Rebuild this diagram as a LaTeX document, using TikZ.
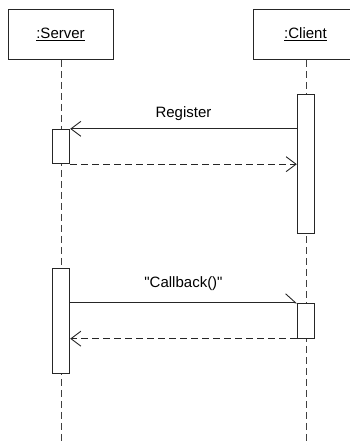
\documentclass[tikz,border=0pt]{standalone}
\usepackage{fontspec}
\setmainfont{Liberation Sans}[Ligatures=TeXOff]
\usetikzlibrary{arrows.meta}
\begin{document}
\begin{tikzpicture}[x=1pt,y=-1pt,
  every node/.style={font=\fontsize{15}{18}\selectfont},
  objbox/.style={draw=black!85, line width=0.9pt, minimum width=105pt, minimum height=50pt, inner sep=0pt},
  actbox/.style={draw=black!85, fill=white, line width=0.9pt, minimum width=17.5pt, inner sep=0pt},
  lifeline/.style={draw=black!75, line width=0.9pt, dash pattern=on 7pt off 4pt},
  msg/.style={draw=black!85, line width=0.9pt, -{Straight Barb[length=10pt,width=15pt]}},
  ret/.style={msg, dash pattern=on 7pt off 4pt},
  halfmsg/.style={draw=black!85, line width=0.9pt, -{Straight Barb[left,length=10pt,width=18pt]}},
  lbl/.style={inner sep=0pt, anchor=base}
]
\useasboundingbox (0,0) rectangle (350,445);
% object boxes
\node[objbox] (server) at (60.5,34.5) {\underline{:Server}};
\node[objbox] (client) at (305.5,34.5) {\underline{:Client}};
% lifelines
\coordinate (sEnd) at (61,450);
\coordinate (cEnd) at (306,450);
\draw[lifeline] (server.south -| sEnd) -- (sEnd);
\draw[lifeline] (client.south -| cEnd) -- (cEnd);
% activations
\node[actbox, minimum height=139pt] (ca1) at (306,163.5) {};
\node[actbox, minimum height=34.5pt] (sa1) at (61,146.5) {};
\node[actbox, minimum height=105pt] (sa2) at (61,320.75) {};
\node[actbox, minimum height=35pt] (ca2) at (306,320.75) {};
% messages
\draw[msg] (ca1.west |- sa1.north) -- node[lbl, above=8pt] {Register} (sa1.north east);
\draw[ret] (sa1.south east) -- (ca1.west |- sa1.south);
\draw[halfmsg] (sa2.east |- ca2.north) -- node[lbl, above=12pt] {"Callback()"} (ca2.north west);
\draw[ret] (ca2.south west) -- (sa2.east |- ca2.south);
\end{tikzpicture}
\end{document}
